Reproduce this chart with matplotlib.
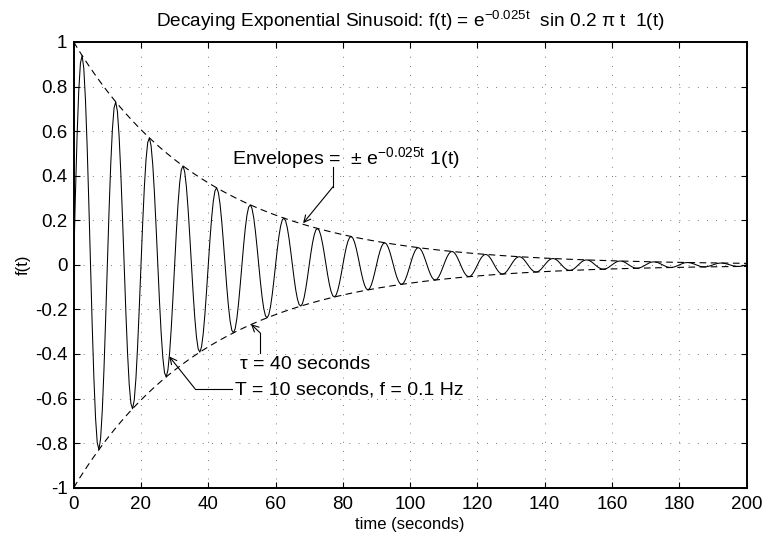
import numpy as np
import matplotlib
matplotlib.use("Agg")
import matplotlib.pyplot as plt

decay_rate = 0.025      # 1/tau, tau = 40 seconds
freq_hz = 0.1           # T = 10 seconds
t_start, t_stop, t_step = 0.0, 200.0, 0.5
x_ticks = [0, 20, 40, 60, 80, 100, 120, 140, 160, 180, 200]
y_ticks = [-1, -0.8, -0.6, -0.4, -0.2, 0, 0.2, 0.4, 0.6, 0.8, 1]
y_ticklabels = ["-1", "-0.8", "-0.6", "-0.4", "-0.2", "0", "0.2", "0.4", "0.6", "0.8", "1"]

t = np.arange(t_start, t_stop + t_step, t_step)
envelope = np.exp(-decay_rate * t)
f = envelope * np.sin(2 * np.pi * freq_hz * t)

plt.rcParams['font.family'] = ['Liberation Sans', 'DejaVu Sans']
plt.rcParams['mathtext.fontset'] = 'custom'
plt.rcParams['mathtext.rm'] = 'Liberation Sans'
plt.rcParams['mathtext.it'] = 'Liberation Sans'
plt.rcParams['font.size'] = 12.5

fig = plt.figure(figsize=(7.62, 5.35), dpi=100)
ax = fig.add_axes([0.0967, 0.0884, 0.8831, 0.8331])

ax.plot(t, f, color='black', lw=0.75)
ax.plot(t, envelope, color='black', lw=0.8, dashes=(6, 4))
ax.plot(t, -envelope, color='black', lw=0.8, dashes=(6, 4))

ax.set_xlim(0, 200)
ax.set_ylim(-1, 1)
ax.set_xticks(x_ticks)
ax.set_yticks(y_ticks)
ax.set_yticklabels(y_ticklabels)
ax.grid(True, color='0.3', lw=0.6, dashes=(1, 10))
ax.tick_params(direction='in', length=4, width=0.8, top=True, right=True, labelsize=13.5)
ax.tick_params(axis='x', pad=6)
ax.tick_params(axis='y', pad=4.5)
for s in ax.spines.values():
    s.set_linewidth(1.4)

ax.set_title(r'Decaying Exponential Sinusoid: f(t) = e$^{\mathregular{-0.025t}}$  sin 0.2 π t  1(t)',
             pad=11, fontsize=13.7)
ax.set_xlabel('time (seconds)', labelpad=3, fontsize=12)
ax.set_ylabel('f(t)', labelpad=3, fontsize=12)


def elbow_arrow(points, tip):
    # plain leg(s) then an arrow into the tip
    xs, ys = zip(*points)
    ax.plot(xs, ys, color='black', lw=0.8)
    ax.annotate('', xy=tip, xytext=points[-1],
                arrowprops=dict(arrowstyle='->', color='black', lw=0.8,
                                shrinkA=0, shrinkB=0, mutation_scale=12))


note_size = 14
ax.text(47.0, 0.452, r'Envelopes =  ± e$^{\mathregular{-0.025t}}$ 1(t)', va='baseline', fontsize=note_size)
elbow_arrow([(77.1, 0.44), (77.1, 0.351)], (68.2, 0.187))

ax.text(49.4, -0.466, 'τ = 40 seconds', va='baseline', fontsize=note_size)
elbow_arrow([(55.4, -0.395), (55.4, -0.305)], (52.7, -0.266))

ax.text(47.9, -0.583, 'T = 10 seconds, f = 0.1 Hz', va='baseline', fontsize=note_size)
elbow_arrow([(47.0, -0.556), (36.05, -0.556)], (28.4, -0.411))

fig.savefig('out.png', dpi=100)
